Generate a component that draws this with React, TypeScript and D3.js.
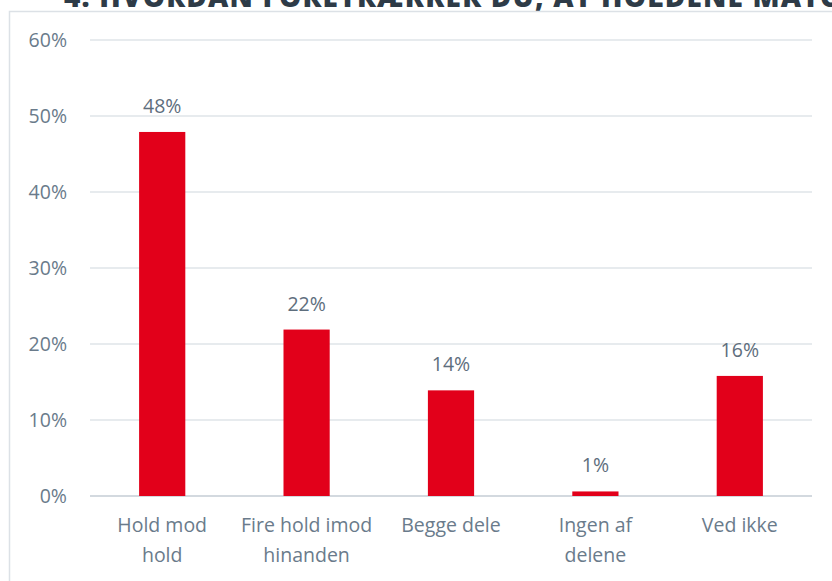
import React, { useEffect, useRef } from 'react';
import * as d3 from 'd3';

const categories = ['Hold mod hold', 'Fire hold imod hinanden', 'Begge dele', 'Ingen af delene', 'Ved ikke'];
const categoryLines = [['Hold mod', 'hold'], ['Fire hold imod', 'hinanden'], ['Begge dele'], ['Ingen af', 'delene'], ['Ved ikke']];
const values = [0.479, 0.219, 0.139, 0.006, 0.158];
const yTicks = [0, 0.1, 0.2, 0.3, 0.4, 0.5, 0.6];
const title = '4. HVORDAN FORETRÆKKER DU, AT HOLDENE MATCHES?';

const App = () => {
  const svgRef = useRef<SVGSVGElement>(null);
  const width = 832;
  const height = 581;

  useEffect(() => {
    const svg = d3.select(svgRef.current);
    svg.selectAll('*').remove();

    const margin = { top: 40, right: 20, bottom: 85, left: 90 };
    const font = "'Open Sans', sans-serif";
    const textColor = '#6a7b8b';

    svg.append('rect').attr('width', width).attr('height', height).attr('fill', '#fff');

    // title, mostly cropped off above the frame (as in the source image)
    svg.append('text')
      .attr('x', 64)
      .attr('y', 7)
      .attr('font-family', "'Open Sans', sans-serif")
      .attr('font-weight', 800)
      .attr('font-size', 28)
      .attr('letter-spacing', 1.2)
      .attr('fill', '#2e3b47')
      .text(title);

    // chart frame
    svg.append('rect')
      .attr('x', 9.5)
      .attr('y', 11.5)
      .attr('width', width + 20)
      .attr('height', height + 20)
      .attr('fill', 'none')
      .attr('stroke', '#dce1e6')
      .attr('stroke-width', 1.5);

    const x = d3.scaleBand()
      .domain(categories)
      .range([margin.left, width - margin.right])
      .paddingInner(0.68)
      .paddingOuter(0.34);

    const y = d3.scaleLinear()
      .domain([0, 0.6])
      .range([height - margin.bottom, margin.top]);

    const fmt = d3.format('.0%');

    // gridlines
    svg.append('g')
      .selectAll('line')
      .data(yTicks)
      .enter().append('line')
      .attr('x1', margin.left)
      .attr('x2', width - margin.right)
      .attr('y1', d => y(d))
      .attr('y2', d => y(d))
      .attr('stroke', d => d === 0 ? '#d3d9df' : '#dfe4e9')
      .attr('stroke-width', d => d === 0 ? 2 : 1.3);

    // y labels
    svg.append('g')
      .selectAll('text')
      .data(yTicks)
      .enter().append('text')
      .attr('x', 67)
      .attr('y', d => y(d))
      .attr('dy', '0.35em')
      .attr('text-anchor', 'end')
      .attr('font-family', font)
      .attr('font-size', 19.5)
      .attr('fill', textColor)
      .text(d => fmt(d));

    // bars
    svg.append('g')
      .selectAll('rect')
      .data(values)
      .enter().append('rect')
      .attr('x', (d, i) => x(categories[i]) as number)
      .attr('y', d => y(d))
      .attr('width', x.bandwidth())
      .attr('height', d => y(0) - y(d))
      .attr('fill', '#e2001a');

    // value labels
    svg.append('g')
      .selectAll('text')
      .data(values)
      .enter().append('text')
      .attr('x', (d, i) => (x(categories[i]) as number) + x.bandwidth() / 2)
      .attr('y', d => y(d) - 19)
      .attr('text-anchor', 'middle')
      .attr('font-family', font)
      .attr('font-size', 19.5)
      .attr('fill', '#5e6e7d')
      .text(d => fmt(d));

    // category labels
    const cat = svg.append('g')
      .selectAll('text')
      .data(categoryLines)
      .enter().append('text')
      .attr('x', (d, i) => (x(categories[i]) as number) + x.bandwidth() / 2)
      .attr('y', 532)
      .attr('text-anchor', 'middle')
      .attr('font-family', font)
      .attr('font-size', 19.5)
      .attr('fill', textColor);

    cat.selectAll('tspan')
      .data(d => d)
      .enter().append('tspan')
      .attr('x', function () { return (this.parentNode as SVGTextElement).getAttribute('x'); })
      .attr('dy', (d, i) => i === 0 ? 0 : 30)
      .text(d => d);
  }, []);

  return (
    <svg ref={svgRef} width={width} height={height}
      style={{ position: 'absolute', left: 0, top: 0, display: 'block' }} />
  );
};

export default App;
